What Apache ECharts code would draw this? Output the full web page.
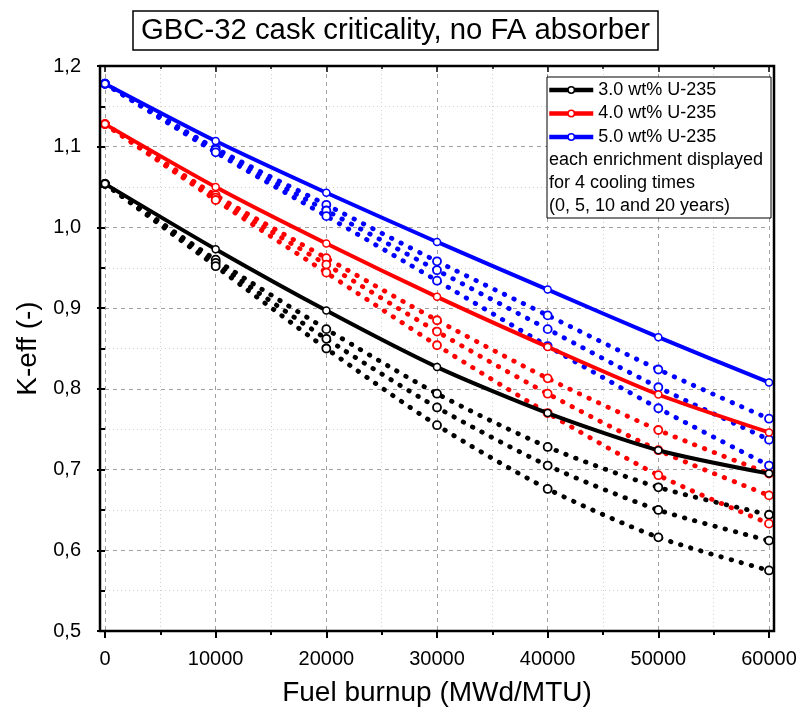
<!DOCTYPE html>
<html>
<head>
<meta charset="utf-8">
<script src="https://cdn.jsdelivr.net/npm/echarts@6/dist/echarts.min.js"></script>
<style>html,body{margin:0;padding:0;background:#fff;}#c{width:804px;height:720px;}</style>
</head>
<body>
<div id="c"></div>
<script>
var burnup = [0, 10000, 20000, 30000, 40000, 50000, 60000];
var xTicks = [0, 10000, 20000, 30000, 40000, 50000, 60000];
var yTicks = [0.5, 0.6, 0.7, 0.8, 0.9, 1.0, 1.1, 1.2];

// 3.0 wt% U-235, cooling 0 / 5 / 10 / 20 years
var k30_0  = [1.054, 0.973, 0.897, 0.827, 0.770, 0.724, 0.695];
var k30_5  = [1.054, 0.960, 0.874, 0.794, 0.728, 0.678, 0.644];
var k30_10 = [1.054, 0.956, 0.862, 0.777, 0.705, 0.650, 0.612];
var k30_20 = [1.054, 0.952, 0.850, 0.755, 0.676, 0.616, 0.575];
// 4.0 wt% U-235
var k40_0  = [1.128, 1.050, 0.980, 0.914, 0.852, 0.793, 0.746];
var k40_5  = [1.128, 1.040, 0.962, 0.885, 0.813, 0.749, 0.695];
var k40_10 = [1.128, 1.037, 0.954, 0.871, 0.794, 0.724, 0.668];
var k40_20 = [1.128, 1.034, 0.944, 0.854, 0.770, 0.693, 0.633];
// 5.0 wt% U-235
var k50_0  = [1.178, 1.107, 1.043, 0.982, 0.923, 0.864, 0.808];
var k50_5  = [1.178, 1.098, 1.028, 0.958, 0.891, 0.824, 0.763];
var k50_10 = [1.178, 1.096, 1.021, 0.947, 0.874, 0.802, 0.737];
var k50_20 = [1.178, 1.093, 1.014, 0.934, 0.853, 0.776, 0.705];

var legendNames = ['3.0 wt% U-235', '4.0 wt% U-235', '5.0 wt% U-235'];
var noteLines = ['each enrichment displayed', 'for 4 cooling times', '(0, 5, 10 and 20 years)'];
var titleText = 'GBC-32 cask criticality, no FA absorber';

var FONT = 'Liberation Sans, Arial, sans-serif';

function pairs(arr) { return burnup.map(function (b, i) { return [b, arr[i]]; }); }

function solid(name, color, arr) {
  return {
    name: name, type: 'line', data: pairs(arr), smooth: 0.25,
    symbol: 'circle', symbolSize: 7, showSymbol: true, z: 5,
    lineStyle: { color: color, width: 4 },
    itemStyle: { color: '#fff', borderColor: color, borderWidth: 1.5 }
  };
}
function dotted(name, color, arr) {
  return {
    name: name, type: 'line', data: pairs(arr), smooth: 0.25,
    symbol: 'circle', symbolSize: 8, showSymbol: true, z: 4,
    lineStyle: { color: color, width: 4.8, type: [0.5, 10], cap: 'round' },
    itemStyle: { color: '#fff', borderColor: color, borderWidth: 1.8 }
  };
}

var series = [
  dotted('3.0 c5', '#000', k30_5), dotted('3.0 c10', '#000', k30_10), dotted('3.0 c20', '#000', k30_20),
  dotted('4.0 c5', '#f00', k40_5), dotted('4.0 c10', '#f00', k40_10), dotted('4.0 c20', '#f00', k40_20),
  dotted('5.0 c5', '#00f', k50_5), dotted('5.0 c10', '#00f', k50_10), dotted('5.0 c20', '#00f', k50_20),
  solid(legendNames[0], '#000', k30_0),
  solid(legendNames[1], '#f00', k40_0),
  solid(legendNames[2], '#00f', k50_0)
];

var fmtY = function (v) { return v.toFixed(1).replace('.', ','); };
var fmtX = function (v) { return String(v); };

var chart = echarts.init(document.getElementById('c'), null, { renderer: 'canvas' });
var option = {
  backgroundColor: '#fff',
  animation: false,
  title: {
    text: titleText, left: 133, top: 11,
    borderColor: '#000', borderWidth: 1.5, padding: [5, 8],
    backgroundColor: '#fff',
    textStyle: { fontFamily: FONT, fontSize: 29.3, fontWeight: 'normal', color: '#000' }
  },
  grid: { left: 105, right: 35, top: 66, bottom: 89 },
  legend: {
    data: legendNames, orient: 'vertical', left: 547, top: 81,
    itemWidth: 44, itemHeight: 8, itemGap: 5.5, padding: 0,
    lineStyle: { width: 4.5 },
    itemStyle: { borderWidth: 1.5 },
    textStyle: { fontFamily: FONT, fontSize: 18, color: '#000' }
  },
  xAxis: [{
    type: 'value', min: 0, max: 60000, interval: 10000, position: 'bottom',
    name: 'Fuel burnup (MWd/MTU)', nameLocation: 'middle', nameGap: 48,
    nameTextStyle: { fontFamily: FONT, fontSize: 28, color: '#000' },
    axisLine: { show: false },
    axisTick: { show: true, inside: false, length: 7, lineStyle: { color: '#000', width: 2 } },
    minorTick: { show: true, splitNumber: 2, length: 4, lineStyle: { color: '#000', width: 2 } },
    axisLabel: { fontFamily: FONT, fontSize: 20, color: '#000', margin: 18, formatter: fmtX },
    splitLine: { show: true, lineStyle: { color: '#a0a0a0', type: [4, 4], width: 1 } },
    minorSplitLine: { show: true, lineStyle: { color: '#d0d0d0', type: [1, 3], width: 1 } }
  }, {
    type: 'value', min: 0, max: 60000, interval: 10000, position: 'top',
    axisLine: { show: false },
    axisTick: { show: true, inside: true, length: 6, lineStyle: { color: '#000', width: 1.5 } },
    minorTick: { show: true, splitNumber: 2, length: 3, lineStyle: { color: '#000', width: 1.5 } },
    axisLabel: { show: false }, splitLine: { show: false }
  }],
  yAxis: [{
    type: 'value', min: 0.5, max: 1.2, interval: 0.1, position: 'left', offset: 5,
    name: 'K-eff (-)', nameLocation: 'middle', nameGap: 53,
    nameTextStyle: { fontFamily: FONT, fontSize: 28, color: '#000' },
    axisLine: { show: false },
    axisTick: { show: true, inside: false, length: 8, lineStyle: { color: '#000', width: 2 } },
    minorTick: { show: true, splitNumber: 2, length: 5, lineStyle: { color: '#000', width: 2 } },
    axisLabel: { fontFamily: FONT, fontSize: 20, color: '#000', margin: 19, formatter: fmtY },
    splitLine: { show: true, lineStyle: { color: '#a0a0a0', type: [4, 4], width: 1 } },
    minorSplitLine: { show: true, lineStyle: { color: '#d0d0d0', type: [1, 3], width: 1 } }
  }, {
    type: 'value', min: 0.5, max: 1.2, interval: 0.1, position: 'right', offset: 5,
    axisLine: { show: false },
    axisTick: { show: true, inside: true, length: 6, lineStyle: { color: '#000', width: 1.5 } },
    minorTick: { show: true, splitNumber: 2, length: 3, lineStyle: { color: '#000', width: 1.5 } },
    axisLabel: { show: false }, splitLine: { show: false }
  }],
  series: series
};
chart.setOption(option);

// frame around plot area: extends 5px beyond the data range on each side (as in reference)
var p0 = chart.convertToPixel({ xAxisIndex: 0, yAxisIndex: 0 }, [0, 1.2]);
var p1 = chart.convertToPixel({ xAxisIndex: 0, yAxisIndex: 0 }, [60000, 0.5]);
var fx0 = p0[0] - 5, fy0 = p0[1], fx1 = p1[0] + 5, fy1 = p1[1];

var graphics = [{
  type: 'rect', z: 100, silent: true,
  shape: { x: fx0, y: fy0, width: fx1 - fx0, height: fy1 - fy0 },
  style: { fill: null, stroke: '#000', lineWidth: 2.5 }
}, {
  type: 'rect', z: 90, silent: true,
  shape: { x: 547, y: 77, width: 224, height: 141 },
  style: { fill: '#fff', stroke: '#000', lineWidth: 1 }
}];
noteLines.forEach(function (t, i) {
  graphics.push({
    type: 'text', z: 101, silent: true, left: 549, top: 151 + i * 23,
    style: { text: t, fontFamily: FONT, fontSize: 18, fill: '#000' }
  });
});
chart.setOption({ graphic: graphics, legend: { z: 102 } });
</script>
</body>
</html>
